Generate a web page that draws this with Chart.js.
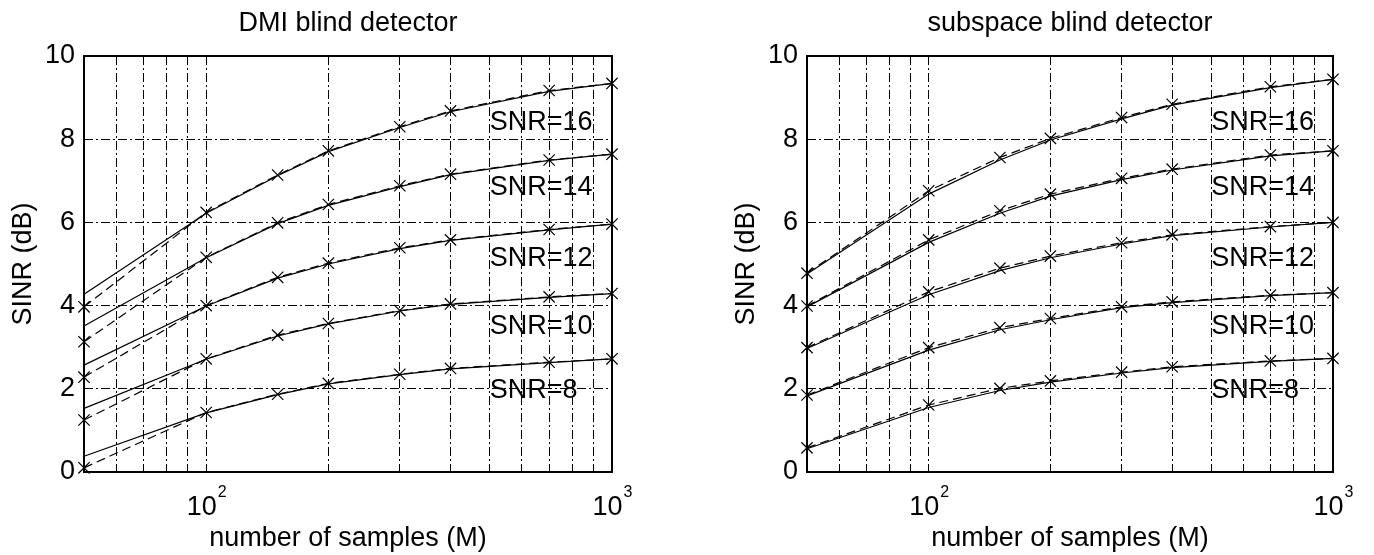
<!DOCTYPE html>
<html>
<head>
<meta charset="utf-8">
<title>SINR vs number of samples</title>
<script src="https://cdn.jsdelivr.net/npm/chart.js@4.4.1/dist/chart.umd.min.js"></script>
<style>
  body { margin: 0; background: #fff; }
  #wrap { display: flex; width: 1374px; height: 555px; }
  canvas { display: block; }
</style>
</head>
<body>
<div id="wrap">
  <canvas id="dmi" width="687" height="555"></canvas>
  <canvas id="subspace" width="687" height="555"></canvas>
</div>
<script>
"use strict"

// antal samples (x) och SNR-nivåerna för kurvorna
const samples = [50, 100, 150, 200, 300, 400, 700, 1000]
const snrLevels = [16, 14, 12, 10, 8]

// DMI - simulerat (streckad linje med kryss)
const dmiSim16 = [3.97, 6.24, 7.14, 7.72, 8.30, 8.68, 9.17, 9.34]
const dmiSim14 = [3.13, 5.16, 5.99, 6.43, 6.88, 7.16, 7.50, 7.64]
const dmiSim12 = [2.28, 4.00, 4.68, 5.02, 5.39, 5.58, 5.83, 5.96]
const dmiSim10 = [1.25, 2.72, 3.29, 3.57, 3.88, 4.04, 4.21, 4.29]
const dmiSim8  = [0.10, 1.43, 1.87, 2.13, 2.35, 2.49, 2.64, 2.72]

// DMI - teori (heldragen linje)
const dmiTheory16 = [4.27, 6.22, 7.12, 7.70, 8.28, 8.66, 9.15, 9.34]
const dmiTheory14 = [3.51, 5.15, 5.97, 6.41, 6.86, 7.15, 7.49, 7.64]
const dmiTheory12 = [2.57, 3.99, 4.66, 5.00, 5.37, 5.57, 5.82, 5.96]
const dmiTheory10 = [1.53, 2.71, 3.27, 3.56, 3.87, 4.03, 4.20, 4.29]
const dmiTheory8  = [0.38, 1.42, 1.86, 2.12, 2.34, 2.48, 2.63, 2.72]

// subspace - simulerat
const subSim16 = [4.78, 6.76, 7.56, 8.02, 8.52, 8.84, 9.26, 9.44]
const subSim14 = [3.99, 5.58, 6.28, 6.68, 7.06, 7.28, 7.62, 7.72]
const subSim12 = [2.99, 4.33, 4.90, 5.19, 5.51, 5.70, 5.90, 6.00]
const subSim10 = [1.85, 2.99, 3.47, 3.69, 3.97, 4.09, 4.25, 4.31]
const subSim8  = [0.58, 1.61, 2.01, 2.19, 2.40, 2.53, 2.67, 2.73]

// subspace - teori
const subTheory16 = [4.76, 6.68, 7.50, 7.98, 8.49, 8.82, 9.24, 9.44]
const subTheory14 = [3.97, 5.52, 6.22, 6.63, 7.03, 7.26, 7.60, 7.72]
const subTheory12 = [2.97, 4.26, 4.84, 5.15, 5.48, 5.68, 5.89, 6.00]
const subTheory10 = [1.83, 2.93, 3.42, 3.66, 3.95, 4.07, 4.24, 4.31]
const subTheory8  = [0.56, 1.55, 1.96, 2.16, 2.38, 2.51, 2.66, 2.73]

// rutnät och axeltexter
const xGridTicks = [50, 60, 70, 80, 90, 100, 200, 300, 400, 500, 600, 700, 800, 900, 1000]
const xLabelValues = [100, 1000]
const xLabelExp = ['2', '3']
const yTicks = [0, 2, 4, 6, 8, 10]

// var SNR-texterna står (i dataenheter)
const snrLabelX = 500
const snrLabelY = [8.40, 6.83, 5.14, 3.50, 1.97]

const fontFamily = "'Liberation Sans', Arial, Helvetica, sans-serif"
Chart.defaults.font.family = fontFamily
Chart.defaults.color = '#000'

// ritar ram, 10^n-etiketter och SNR-texter ovanpå diagrammet
const extrasPlugin = {
    id: 'extras',
    afterDraw(chart) {
        const ctx = chart.ctx
        const area = chart.chartArea
        const xs = chart.scales.x
        const ys = chart.scales.y
        ctx.save()
        ctx.strokeStyle = '#000'
        ctx.lineWidth = 2
        ctx.strokeRect(area.left, area.top, area.right - area.left, area.bottom - area.top)

        ctx.fillStyle = '#000'
        ctx.textAlign = 'left'
        ctx.textBaseline = 'alphabetic'
        xLabelValues.forEach((v, i) => {
            ctx.font = '27px ' + fontFamily
            const w1 = ctx.measureText('10').width
            ctx.font = '16px ' + fontFamily
            const w2 = ctx.measureText(xLabelExp[i]).width
            const start = xs.getPixelForValue(v) - (w1 + w2) / 2
            ctx.font = '27px ' + fontFamily
            ctx.fillText('10', start, area.bottom + 43)
            ctx.font = '16px ' + fontFamily
            ctx.fillText(xLabelExp[i], start + w1 + 1, area.bottom + 25)
        })

        ctx.font = '27px ' + fontFamily
        ctx.textBaseline = 'middle'
        snrLevels.forEach((snr, i) => {
            ctx.fillText('SNR=' + snr, xs.getPixelForValue(snrLabelX), ys.getPixelForValue(snrLabelY[i]))
        })
        ctx.restore()
    }
}

function toPoints(values) {
    return samples.map((m, i) => ({ x: m, y: values[i] }))
}

function drawDetectorChart(canvasId, title, simSeries, theorySeries, pad) {
    const datasets = []
    snrLevels.forEach((snr, i) => {
        datasets.push({
            label: 'SNR=' + snr + ' teori',
            data: toPoints(theorySeries[i]),
            borderColor: '#000',
            borderWidth: 1.2,
            pointRadius: 0,
            tension: 0,
            clip: false
        })
        datasets.push({
            label: 'SNR=' + snr + ' sim',
            data: toPoints(simSeries[i]),
            borderColor: '#000',
            borderWidth: 1.2,
            borderDash: [9, 5],
            pointStyle: 'crossRot',
            pointRadius: 8,
            pointBorderWidth: 1.2,
            pointBorderColor: '#000',
            pointBackgroundColor: '#000',
            tension: 0,
            clip: false
        })
    })

    const ctx = document.getElementById(canvasId).getContext('2d')
    new Chart(ctx, {
        type: 'line',
        data: { datasets: datasets },
        options: {
            responsive: false,
            animation: false,
            layout: { padding: pad },
            plugins: {
                legend: { display: false },
                tooltip: { enabled: false },
                title: {
                    display: true,
                    text: title,
                    fullSize: false,
                    color: '#000',
                    font: { size: 27, weight: 'normal', lineHeight: 1.2 },
                    padding: { top: 7, bottom: 16.6 }
                }
            },
            scales: {
                x: {
                    type: 'logarithmic',
                    min: 50,
                    max: 1000,
                    afterBuildTicks: scale => { scale.ticks = xGridTicks.map(v => ({ value: v })) },
                    afterFit: scale => { scale.height = 83 },
                    ticks: { display: false },
                    grid: { color: '#000', lineWidth: 1, drawTicks: false },
                    border: { display: false, dash: [9, 3, 2, 3] },
                    title: {
                        display: true,
                        text: 'number of samples (M)',
                        font: { size: 27, lineHeight: 1.2 },
                        padding: { top: 0, bottom: 0 }
                    }
                },
                y: {
                    min: 0,
                    max: 10,
                    afterBuildTicks: scale => { scale.ticks = yTicks.map(v => ({ value: v })) },
                    afterFit: scale => { scale.width = 84 },
                    ticks: { font: { size: 27 }, padding: 9, color: '#000' },
                    grid: { color: '#000', lineWidth: 1, drawTicks: false },
                    border: { display: false, dash: [9, 3, 2, 3] },
                    title: {
                        display: true,
                        text: 'SINR (dB)',
                        font: { size: 27, lineHeight: 1.2 },
                        padding: { top: 7, bottom: 0 }
                    }
                }
            }
        },
        plugins: [extrasPlugin]
    })
}

drawDetectorChart('dmi', 'DMI blind detector',
    [dmiSim16, dmiSim14, dmiSim12, dmiSim10, dmiSim8],
    [dmiTheory16, dmiTheory14, dmiTheory12, dmiTheory10, dmiTheory8],
    { top: 0, left: 0, right: 75, bottom: 0 })

drawDetectorChart('subspace', 'subspace blind detector',
    [subSim16, subSim14, subSim12, subSim10, subSim8],
    [subTheory16, subTheory14, subTheory12, subTheory10, subTheory8],
    { top: 0, left: 36, right: 41, bottom: 0 })
</script>
</body>
</html>
